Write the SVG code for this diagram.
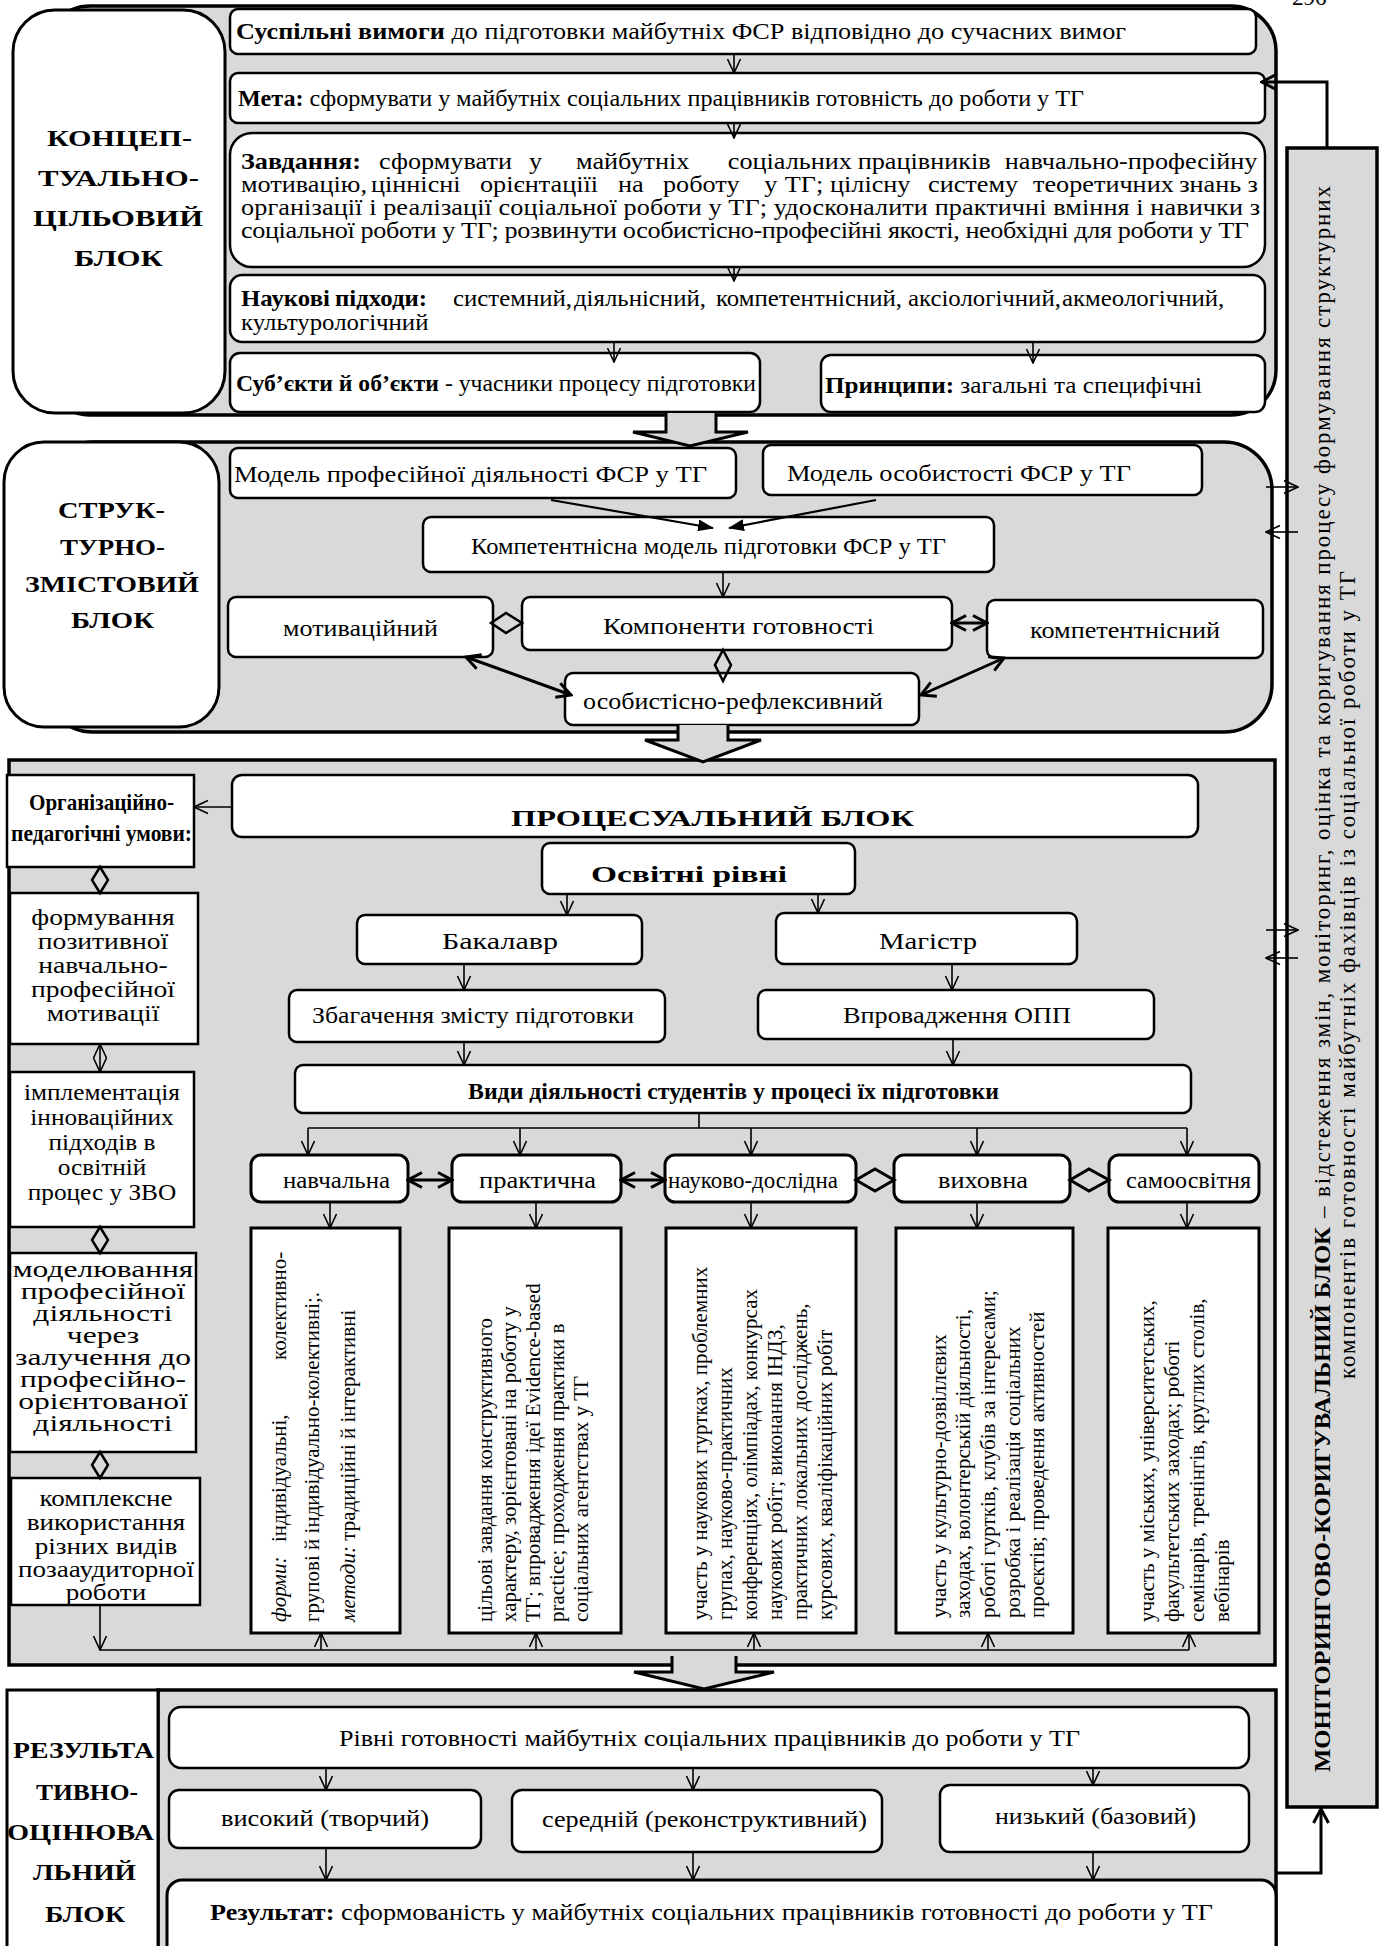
<svg xmlns="http://www.w3.org/2000/svg" width="1381" height="1946" viewBox="0 0 1381 1946">
<defs>
<style>
.t{font-family:"Liberation Serif","Times New Roman",serif;font-size:23px;fill:#000}
.b{font-weight:bold}
.i{font-style:italic}
.r{font-size:21px}
.bx{fill:#fff;stroke:#000;stroke-width:2.5}
.bx3{fill:#fff;stroke:#000;stroke-width:3}
.blk{fill:#d9d9d9;stroke:#000;stroke-width:3.5}
.ln{fill:none;stroke:#000;stroke-width:1.6}
.ln2{fill:none;stroke:#000;stroke-width:2.2}
.lnt{fill:none;stroke:#000;stroke-width:3}
.dm{fill:none;stroke:#000;stroke-width:2.5}
.ba{fill:#d9d9d9;stroke:#000;stroke-width:3;stroke-linejoin:miter}
</style>
<marker id="v" viewBox="0 0 16 16" refX="15" refY="8" markerWidth="16" markerHeight="16" markerUnits="userSpaceOnUse" orient="auto-start-reverse"><path d="M1,1.5 L15,8 L1,14.5" fill="none" stroke="#000" stroke-width="1.6"/></marker>
<marker id="vt" viewBox="0 0 18 18" refX="16" refY="9" markerWidth="18" markerHeight="18" markerUnits="userSpaceOnUse" orient="auto-start-reverse"><path d="M2,1.5 L16,9 L2,16.5" fill="none" stroke="#000" stroke-width="3"/></marker>
<marker id="f" viewBox="0 0 16 12" refX="15" refY="6" markerWidth="16" markerHeight="12" markerUnits="userSpaceOnUse" orient="auto"><path d="M0,0 L16,6 L0,12 Z" fill="#000"/></marker>
</defs>
<rect width="1381" height="1946" fill="#fff"/>
<text class="t" x="1292" y="5" font-size="26">296</text>

<!-- BLOCK 1 -->
<g id="block1">
<rect class="blk" x="45" y="6" width="1231" height="409" rx="45"/>
</g>
<g id="label1">
<rect class="bx3" x="13" y="10" width="212" height="403" rx="42"/>
<g class="t b" font-size="30">
<text x="47" y="146" textLength="145" lengthAdjust="spacingAndGlyphs">КОНЦЕП-</text>
<text x="38" y="186" textLength="161" lengthAdjust="spacingAndGlyphs">ТУАЛЬНО-</text>
<text x="33" y="226" textLength="170" lengthAdjust="spacingAndGlyphs">ЦІЛЬОВИЙ</text>
<text x="74" y="266" textLength="89" lengthAdjust="spacingAndGlyphs">БЛОК</text>
</g>
</g>
<g id="n_req">
<rect class="bx" x="230" y="9" width="1026" height="45" rx="8"/>
<text class="t" x="236" y="39" textLength="890" lengthAdjust="spacingAndGlyphs"><tspan class="b">Суспільні вимоги</tspan> до підготовки майбутніх ФСР відповідно до сучасних вимог</text>
</g>
<g id="n_goal">
<rect class="bx" x="230" y="73" width="1035" height="50" rx="8"/>
<text class="t" x="238" y="106" textLength="846" lengthAdjust="spacingAndGlyphs"><tspan class="b">Мета:</tspan> сформувати у майбутніх соціальних працівників готовність до роботи у ТГ</text>
</g>
<g id="n_tasks">
<rect class="bx" x="230" y="133" width="1035" height="134" rx="22"/>
<g transform="matrix(1.14,0,0,1,-33.74,0)">
<text class="t" y="169" font-size="21"><tspan class="b" x="241">Завдання:</tspan><tspan x="362.06">сформувати</tspan><tspan x="493.63">у</tspan><tspan x="534.86">майбутніх</tspan><tspan x="668">соціальних</tspan><tspan x="782">працівників</tspan><tspan x="911">навчально-професійну</tspan></text>
<text class="t" y="192" font-size="21"><tspan x="241">мотивацію,</tspan><tspan x="355.04">ціннісні</tspan><tspan x="450.65">орієнтаціїі</tspan><tspan x="571.7">на</tspan><tspan x="611.18">роботу</tspan><tspan x="700">у</tspan><tspan x="718">ТГ;</tspan><tspan x="757.67">цілісну</tspan><tspan x="843.63">систему</tspan><tspan x="935.74">теоретичних</tspan><tspan x="1064">знань</tspan><tspan x="1124">з</tspan></text>
<text class="t" x="241" y="215" font-size="21" textLength="893.9" lengthAdjust="spacing">організації і реалізації соціальної роботи у ТГ; удосконалити практичні вміння і навички з</text>
<text class="t" x="241" y="238" font-size="21" textLength="884.2" lengthAdjust="spacing">соціальної роботи у ТГ; розвинути особистісно-професійні якості, необхідні для роботи у ТГ</text>
</g>
</g>
<g id="n_approach">
<rect class="bx" x="230" y="275" width="1035" height="67" rx="12"/>
<g transform="matrix(1.08,0,0,1,-19.28,0)">
<text class="t" y="306" font-size="21"><tspan class="b" x="241">Наукові</tspan><tspan class="b" x="328.04">підходи:</tspan><tspan x="437.3">системний,</tspan><tspan x="549.33">діяльнісний,</tspan><tspan x="680.81">компетентнісний,</tspan><tspan x="858.59">аксіологічний,</tspan><tspan x="1001.19">акмеологічний,</tspan></text>
<text class="t" x="241" y="330" font-size="21">культурологічний</text>
</g>
</g>
<g id="n_subj">
<rect class="bx" x="230" y="353" width="530" height="59" rx="10"/>
<text class="t" x="236" y="391" textLength="520" lengthAdjust="spacingAndGlyphs"><tspan class="b">Суб’єкти й об’єкти</tspan> - учасники процесу підготовки</text>
</g>
<g id="n_princ">
<rect class="bx" x="821" y="355" width="444" height="57" rx="10"/>
<text class="t" x="825" y="393" textLength="377" lengthAdjust="spacingAndGlyphs"><tspan class="b">Принципи:</tspan> загальні та специфічні</text>
</g>

<!-- BLOCK 2 -->
<g id="block2">
<rect class="blk" x="45" y="442" width="1227" height="290" rx="48"/>
</g>
<g id="label2">
<rect class="bx3" x="4" y="442" width="215" height="285" rx="40"/>
<g class="t b" font-size="28">
<text x="58" y="518" textLength="107" lengthAdjust="spacingAndGlyphs">СТРУК-</text>
<text x="60" y="555" textLength="105" lengthAdjust="spacingAndGlyphs">ТУРНО-</text>
<text x="25" y="592" textLength="174" lengthAdjust="spacingAndGlyphs">ЗМІСТОВИЙ</text>
<text x="71" y="628" textLength="83" lengthAdjust="spacingAndGlyphs">БЛОК</text>
</g>
</g>
<g id="n_mprof">
<rect class="bx" x="230" y="448" width="506" height="50" rx="8"/>
<text class="t" x="234" y="482" textLength="473" lengthAdjust="spacingAndGlyphs">Модель професійної діяльності ФСР у ТГ</text>
</g>
<g id="n_mpers">
<rect class="bx" x="763" y="445" width="439" height="50" rx="8"/>
<text class="t" x="787" y="481" textLength="344" lengthAdjust="spacingAndGlyphs">Модель особистості ФСР у ТГ</text>
</g>
<g id="n_compmodel">
<rect class="bx" x="423" y="517" width="571" height="55" rx="8"/>
<text class="t" x="471" y="554" textLength="475" lengthAdjust="spacingAndGlyphs">Компетентнісна модель підготовки ФСР у ТГ</text>
</g>
<g id="n_motiv">
<rect class="bx" x="228" y="597" width="265" height="60" rx="8"/>
<text class="t" x="283" y="636" textLength="155" lengthAdjust="spacingAndGlyphs">мотиваційний</text>
</g>
<g id="n_ready">
<rect class="bx" x="522" y="597" width="430" height="53" rx="8"/>
<text class="t" x="603" y="634" textLength="271" lengthAdjust="spacingAndGlyphs">Компоненти готовності</text>
</g>
<g id="n_compet">
<rect class="bx" x="987" y="600" width="276" height="58" rx="8"/>
<text class="t" x="1030" y="638" textLength="190" lengthAdjust="spacingAndGlyphs">компетентнісний</text>
</g>
<g id="n_refl">
<rect class="bx" x="565" y="673" width="354" height="52" rx="8"/>
<text class="t" x="583" y="709" textLength="300" lengthAdjust="spacingAndGlyphs">особистісно-рефлексивний</text>
</g>

<!-- BLOCK 3 -->
<g id="block3">
<rect class="blk" x="9" y="760" width="1266" height="905" stroke-width="4"/>
</g>
<g id="n_org">
<rect class="bx" x="7" y="775" width="187" height="92"/>
<text class="t b" font-size="20" x="29" y="810" textLength="145" lengthAdjust="spacingAndGlyphs">Організаційно-</text>
<text class="t b" font-size="20" x="11" y="841" textLength="181" lengthAdjust="spacingAndGlyphs">педагогічні умови:</text>
</g>
<g id="n_proc">
<rect class="bx" x="232" y="775" width="966" height="62" rx="10"/>
<text class="t b" font-size="32" x="511" y="826" textLength="403" lengthAdjust="spacingAndGlyphs">ПРОЦЕСУАЛЬНИЙ БЛОК</text>
</g>
<g id="n_edu">
<rect class="bx" x="542" y="843" width="313" height="51" rx="8"/>
<text class="t b" font-size="29" x="591" y="882" textLength="196" lengthAdjust="spacingAndGlyphs">Освітні рівні</text>
</g>
<g id="n_bach">
<rect class="bx" x="357" y="915" width="285" height="49" rx="8"/>
<text class="t" font-size="25" x="442" y="949" textLength="116" lengthAdjust="spacingAndGlyphs">Бакалавр</text>
</g>
<g id="n_mast">
<rect class="bx" x="776" y="913" width="301" height="51" rx="8"/>
<text class="t" font-size="25" x="879" y="949" textLength="98" lengthAdjust="spacingAndGlyphs">Магістр</text>
</g>
<g id="n_enrich">
<rect class="bx" x="289" y="990" width="376" height="52" rx="8"/>
<text class="t" x="312" y="1023" textLength="322" lengthAdjust="spacingAndGlyphs">Збагачення змісту підготовки</text>
</g>
<g id="n_opp">
<rect class="bx" x="758" y="990" width="396" height="49" rx="8"/>
<text class="t" x="843" y="1023" textLength="228" lengthAdjust="spacingAndGlyphs">Впровадження ОПП</text>
</g>
<g id="n_types">
<rect class="bx" x="295" y="1065" width="896" height="48" rx="8"/>
<text class="t b" font-size="22" x="468" y="1099" textLength="531" lengthAdjust="spacingAndGlyphs">Види діяльності студентів у процесі їх підготовки</text>
</g>
<g id="n_cond1">
<rect class="bx" x="10" y="893" width="188" height="151"/>
<text class="t" font-size="21" text-anchor="middle" transform="matrix(1.2,0,0,1,-20.6,0)"><tspan x="103" y="925">формування</tspan><tspan x="103" y="949">позитивної</tspan><tspan x="103" y="973">навчально-</tspan><tspan x="103" y="997">професійної</tspan><tspan x="103" y="1021">мотивації</tspan></text>
</g>
<g id="n_cond2">
<rect class="bx" x="10" y="1072" width="184" height="155"/>
<text class="t" font-size="22" text-anchor="middle" transform="matrix(1.1,0,0,1,-10.2,0)"><tspan x="102" y="1100">імплементація</tspan><tspan x="102" y="1125">інноваційних</tspan><tspan x="102" y="1150">підходів в</tspan><tspan x="102" y="1175">освітній</tspan><tspan x="102" y="1200">процес у ЗВО</tspan></text>
</g>
<g id="n_cond3">
<rect class="bx" x="10" y="1253" width="186" height="199"/>
<text class="t" font-size="18" text-anchor="middle" transform="matrix(1.37,0,0,1,-38.11,0)"><tspan x="103" y="1277">моделювання</tspan><tspan x="103" y="1299">професійної</tspan><tspan x="103" y="1321">діяльності</tspan><tspan x="103" y="1343">через</tspan><tspan x="103" y="1365">залучення до</tspan><tspan x="103" y="1387">професійно-</tspan><tspan x="103" y="1409">орієнтованої</tspan><tspan x="103" y="1431">діяльності</tspan></text>
</g>
<g id="n_cond4">
<rect class="bx" x="11" y="1478" width="189" height="127"/>
<text class="t" font-size="21" text-anchor="middle" transform="matrix(1.18,0,0,1,-19.08,0)"><tspan x="106" y="1506">комплексне</tspan><tspan x="106" y="1530">використання</tspan><tspan x="106" y="1554">різних видів</tspan><tspan x="106" y="1577">позааудиторної</tspan><tspan x="106" y="1600">роботи</tspan></text>
</g>
<g id="n_act1">
<rect class="bx3" x="251" y="1155" width="157" height="47" rx="10"/>
<text class="t" x="283" y="1188" textLength="107" lengthAdjust="spacingAndGlyphs">навчальна</text>
</g>
<g id="n_act2">
<rect class="bx3" x="452" y="1155" width="169" height="47" rx="10"/>
<text class="t" x="479" y="1188" textLength="117" lengthAdjust="spacingAndGlyphs">практична</text>
</g>
<g id="n_act3">
<rect class="bx3" x="665" y="1155" width="191" height="47" rx="10"/>
<text class="t" x="668" y="1188" textLength="170" lengthAdjust="spacingAndGlyphs">науково-дослідна</text>
</g>
<g id="n_act4">
<rect class="bx3" x="894" y="1155" width="176" height="47" rx="10"/>
<text class="t" x="938" y="1188" textLength="90" lengthAdjust="spacingAndGlyphs">виховна</text>
</g>
<g id="n_act5">
<rect class="bx3" x="1109" y="1155" width="150" height="47" rx="10"/>
<text class="t" x="1126" y="1188" textLength="125" lengthAdjust="spacingAndGlyphs">самоосвітня</text>
</g>
<g id="n_cont1">
<rect class="bx3" x="251" y="1228" width="149" height="405"/>
<text class="t r" transform="translate(286,1622) rotate(-90)"><tspan class="i" x="0">форми:</tspan><tspan x="80">індивідуальні,</tspan><tspan x="262">колективно-</tspan></text>
<text class="t r" transform="translate(319,1622) rotate(-90)">групові й індивідуально-колективні;.</text>
<text class="t r" transform="translate(355,1622) rotate(-90)"><tspan class="i">методи:</tspan> традиційні й інтерактивні</text>
</g>
<g id="n_cont2">
<rect class="bx3" x="449" y="1228" width="172" height="405"/>
<text class="t r" transform="translate(492,1622) rotate(-90)">цільові завдання конструктивного</text>
<text class="t r" transform="translate(516,1622) rotate(-90)">характеру, зорієнтовані на роботу у</text>
<text class="t r" transform="translate(540,1622) rotate(-90)">ТГ; впровадження ідеї Evidence-based</text>
<text class="t r" transform="translate(564,1622) rotate(-90)">practice; проходження практики в</text>
<text class="t r" transform="translate(588,1622) rotate(-90)">соціальних агентствах у ТГ</text>
</g>
<g id="n_cont3">
<rect class="bx3" x="666" y="1228" width="190" height="405"/>
<text class="t r" transform="translate(707,1620) rotate(-90)">участь у наукових гуртках, проблемних</text>
<text class="t r" transform="translate(732,1620) rotate(-90)">групах, науково-практичних</text>
<text class="t r" transform="translate(757,1620) rotate(-90)">конференціях, олімпіадах, конкурсах</text>
<text class="t r" transform="translate(782,1620) rotate(-90)">наукових робіт; виконання ІНДЗ,</text>
<text class="t r" transform="translate(807,1620) rotate(-90)">практичних локальних досліджень,</text>
<text class="t r" transform="translate(832,1620) rotate(-90)">курсових, кваліфікаційних робіт</text>
</g>
<g id="n_cont4">
<rect class="bx3" x="896" y="1228" width="177" height="405"/>
<text class="t r" transform="translate(946,1618) rotate(-90)">участь у культурно-дозвіллєвих</text>
<text class="t r" transform="translate(970,1618) rotate(-90)">заходах, волонтерській діяльності,</text>
<text class="t r" transform="translate(995,1618) rotate(-90)">роботі гуртків, клубів за інтересами;</text>
<text class="t r" transform="translate(1020,1618) rotate(-90)">розробка і реалізація соціальних</text>
<text class="t r" transform="translate(1044,1618) rotate(-90)">проєктів; проведення активностей</text>
</g>
<g id="n_cont5">
<rect class="bx3" x="1108" y="1228" width="151" height="405"/>
<text class="t r" transform="translate(1154,1622) rotate(-90)">участь у міських, університетських,</text>
<text class="t r" transform="translate(1179,1622) rotate(-90)">факультетських заходах; роботі</text>
<text class="t r" transform="translate(1204,1622) rotate(-90)">семінарів, тренінгів,  круглих столів,</text>
<text class="t r" transform="translate(1229,1622) rotate(-90)">вебінарів</text>
</g>

<!-- BLOCK 4 -->
<g id="block4">
<rect class="blk" x="158" y="1690" width="1118" height="270" stroke-width="4"/>
</g>
<g id="label4">
<rect class="bx3" x="7" y="1690" width="151" height="270"/>
<g class="t b" font-size="27">
<text x="13" y="1758" textLength="141" lengthAdjust="spacingAndGlyphs">РЕЗУЛЬТА</text>
<text x="36" y="1800" textLength="102" lengthAdjust="spacingAndGlyphs">ТИВНО-</text>
<text x="7" y="1840" textLength="147" lengthAdjust="spacingAndGlyphs">ОЦІНЮВА</text>
<text x="33" y="1880" textLength="103" lengthAdjust="spacingAndGlyphs">ЛЬНИЙ</text>
<text x="45" y="1922" textLength="80" lengthAdjust="spacingAndGlyphs">БЛОК</text>
</g>
</g>
<g id="n_levels">
<rect class="bx" x="169" y="1707" width="1080" height="61" rx="12"/>
<text class="t" x="339" y="1746" textLength="741" lengthAdjust="spacingAndGlyphs">Рівні готовності майбутніх соціальних працівників до роботи у ТГ</text>
</g>
<g id="n_high">
<rect class="bx" x="169" y="1790" width="312" height="58" rx="10"/>
<text class="t" x="221" y="1826" textLength="208" lengthAdjust="spacingAndGlyphs">високий (творчий)</text>
</g>
<g id="n_mid">
<rect class="bx" x="512" y="1790" width="370" height="62" rx="10"/>
<text class="t" x="542" y="1827" textLength="325" lengthAdjust="spacingAndGlyphs">середній (реконструктивний)</text>
</g>
<g id="n_low">
<rect class="bx" x="940" y="1785" width="309" height="67" rx="10"/>
<text class="t" x="995" y="1824" textLength="201" lengthAdjust="spacingAndGlyphs">низький (базовий)</text>
</g>
<g id="n_result">
<rect class="bx3" x="167" y="1880" width="1109" height="90" rx="15"/>
<text class="t" x="210" y="1920" textLength="1003" lengthAdjust="spacingAndGlyphs"><tspan class="b">Результат:</tspan> сформованість у майбутніх соціальних працівників готовності до роботи у ТГ</text>
</g>

<!-- MONITORING PANEL -->
<g id="n_monitor">
<rect class="blk" x="1287" y="148" width="90" height="1659" stroke-width="4"/>
<text class="t b" font-size="22" transform="translate(1330,1772) rotate(-90)" textLength="545" lengthAdjust="spacingAndGlyphs">МОНІТОРИНГОВО-КОРИГУВАЛЬНИЙ БЛОК</text>
<text class="t" font-size="22" transform="translate(1330,1218) rotate(-90)" textLength="1032" lengthAdjust="spacing">– відстеження змін, моніторинг, оцінка та коригування процесу формування структурних</text>
<text class="t" font-size="22" transform="translate(1355,1379) rotate(-90)" textLength="808" lengthAdjust="spacing">компонентів готовності майбутніх фахівців із соціальної роботи у ТГ</text>
</g>

<!-- CONNECTORS -->
<g id="connectors">
<g class="ln" marker-end="url(#v)">
<line x1="734" y1="54" x2="734" y2="73"/>
<line x1="734" y1="123" x2="734" y2="138"/>
<line x1="734" y1="267" x2="734" y2="281"/>
<line x1="614" y1="342" x2="614" y2="362"/>
<line x1="1033" y1="342" x2="1033" y2="363"/>
<line x1="723" y1="572" x2="723" y2="597"/>
<line x1="232" y1="807" x2="194" y2="807"/>
<line x1="567" y1="894" x2="567" y2="915"/>
<line x1="818" y1="894" x2="818" y2="913"/>
<line x1="464" y1="964" x2="464" y2="990"/>
<line x1="952" y1="964" x2="952" y2="990"/>
<line x1="464" y1="1042" x2="464" y2="1065"/>
<line x1="953" y1="1039" x2="953" y2="1065"/>
<line x1="308" y1="1128" x2="308" y2="1155"/>
<line x1="520" y1="1128" x2="520" y2="1155"/>
<line x1="751" y1="1128" x2="751" y2="1155"/>
<line x1="977" y1="1128" x2="977" y2="1155"/>
<line x1="1187" y1="1128" x2="1187" y2="1155"/>
<line x1="330" y1="1202" x2="330" y2="1228"/>
<line x1="536" y1="1202" x2="536" y2="1228"/>
<line x1="751" y1="1202" x2="751" y2="1228"/>
<line x1="977" y1="1202" x2="977" y2="1228"/>
<line x1="1187" y1="1202" x2="1187" y2="1228"/>
<line x1="100" y1="1605" x2="100" y2="1650"/>
<line x1="321" y1="1650" x2="321" y2="1633"/>
<line x1="536" y1="1650" x2="536" y2="1633"/>
<line x1="754" y1="1650" x2="754" y2="1633"/>
<line x1="988" y1="1650" x2="988" y2="1633"/>
<line x1="1189" y1="1650" x2="1189" y2="1633"/>
<line x1="326" y1="1768" x2="326" y2="1790"/>
<line x1="693" y1="1768" x2="693" y2="1790"/>
<line x1="1093" y1="1768" x2="1093" y2="1785"/>
<line x1="326" y1="1848" x2="326" y2="1880"/>
<line x1="693" y1="1852" x2="693" y2="1880"/>
<line x1="1093" y1="1852" x2="1093" y2="1880"/>
<line x1="1266" y1="487" x2="1298" y2="487"/>
<line x1="1298" y1="532" x2="1266" y2="532"/>
<line x1="1266" y1="930" x2="1298" y2="930"/>
<line x1="1298" y1="958" x2="1266" y2="958"/>
</g>
<line class="ln" x1="100" y1="1044" x2="100" y2="1072" marker-start="url(#v)" marker-end="url(#v)"/>
<line class="ln" x1="699" y1="1113" x2="699" y2="1128"/>
<line class="ln" x1="308" y1="1128" x2="1187" y2="1128"/>
<line class="ln" x1="100" y1="1650" x2="1189" y2="1650"/>
<line class="ln2" x1="551" y1="500" x2="713" y2="528" marker-end="url(#f)"/>
<line class="ln2" x1="876" y1="500" x2="729" y2="528" marker-end="url(#f)"/>
<line class="lnt" x1="952" y1="623" x2="987" y2="623" marker-start="url(#vt)" marker-end="url(#vt)"/>
<line class="lnt" x1="466" y1="657" x2="571" y2="695" marker-start="url(#vt)" marker-end="url(#vt)"/>
<line class="lnt" x1="1004" y1="658" x2="921" y2="695" marker-start="url(#vt)" marker-end="url(#vt)"/>
<line class="lnt" x1="408" y1="1180" x2="452" y2="1180" marker-start="url(#vt)" marker-end="url(#vt)"/>
<line class="lnt" x1="621" y1="1180" x2="665" y2="1180" marker-start="url(#vt)" marker-end="url(#vt)"/>
<g class="dm">
<polygon points="491,623 506,613 522,623 506,633"/>
<polygon points="723,650 731,665 723,681 715,665"/>
<polygon points="856,1180 875,1169 894,1180 875,1191" stroke-width="3"/>
<polygon points="1070,1180 1089,1169 1109,1180 1089,1191" stroke-width="3"/>
<polygon points="100,867 108,880 100,893 92,880"/>
<polygon points="100,1227 108,1240 100,1253 92,1240"/>
<polygon points="100,1452 108,1465 100,1478 92,1465"/>
</g>
<polyline class="lnt" points="1327,148 1327,82 1262,82" marker-end="url(#vt)"/>
<polyline class="lnt" points="1276,1873 1321,1873 1321,1809" marker-end="url(#vt)"/>
<path class="ba" d="M666,413 V432 H633 L690,446 L748,432 H716 V413"/>
<path class="ba" d="M678,725 V740 H645 L703,762 L761,740 H728 V725"/>
<path class="ba" d="M672,1656 V1672 H634 L704,1689 L774,1672 H736 V1656"/>
</g>
</svg>
